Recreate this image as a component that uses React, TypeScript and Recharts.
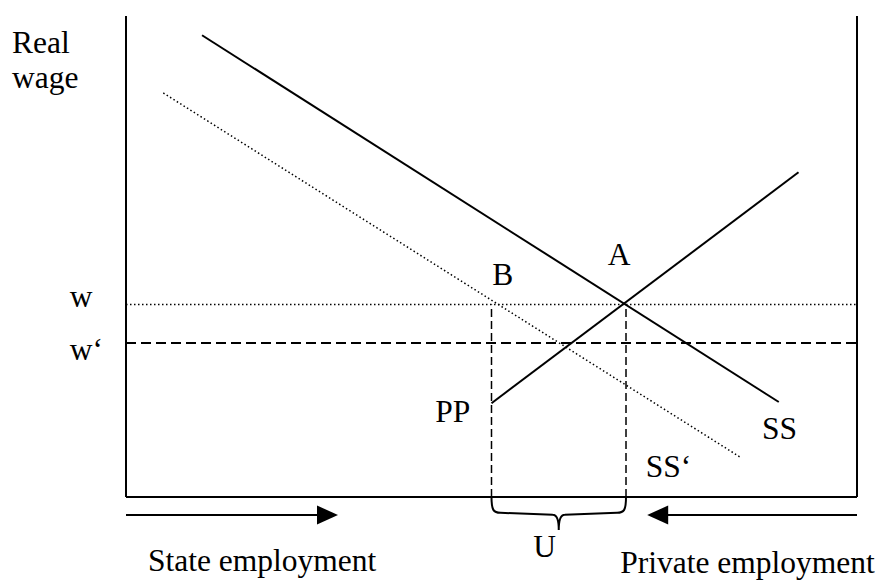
import React from "react"
import {
  ComposedChart,
  Line,
  Scatter,
  XAxis,
  YAxis,
  ReferenceLine,
  ReferenceArea,
} from "recharts"

// diagram geometry: employment 0..100 along the box, real wage 0..100 up the box
const WIDTH = 878
const HEIGHT = 580
const ORIGIN_PX = { x: 126, y: 497 }
const PX_PER_X = 7.31
const PX_PER_Y = 4.81

const ssCurve = [
  { x: 10.4, y: 96 },
  { x: 89.3, y: 19.75 },
]
const ssPrimeCurve = [
  { x: 5.1, y: 84 },
  { x: 84, y: 8.3 },
]
const ppCurve = [
  { x: 50, y: 19.5 },
  { x: 92, y: 67.5 },
]

const wageW = 40
const wagePrime = 32
const employmentB = 50
const employmentA = 68.4
const arrowLevel = -3.74

const arrowHeads = [
  { x: 29, y: arrowLevel, dir: 1 },
  { x: 71.3, y: arrowLevel, dir: -1 },
]

const labels = [
  { text: "Real", x: -15.6, y: 92.3 },
  { text: "wage", x: -15.6, y: 85 },
  { text: "w", x: -7.7, y: 39.5 },
  { text: "w\u2018", x: -7.7, y: 28.5 },
  { text: "A", x: 65.9, y: 48.2 },
  { text: "B", x: 50.1, y: 44.1 },
  { text: "PP", x: 42.3, y: 15.6 },
  { text: "SS", x: 87, y: 12.1 },
  { text: "SS\u2018", x: 71.1, y: 4.2 },
  { text: "U", x: 55.7, y: -12.5 },
  { text: "State employment", x: 3, y: -15.4 },
  { text: "Private employment", x: 67.6, y: -15.8 },
]

const X_DOMAIN = [-ORIGIN_PX.x / PX_PER_X, (WIDTH - ORIGIN_PX.x) / PX_PER_X]
const Y_DOMAIN = [-(HEIGHT - ORIGIN_PX.y) / PX_PER_Y, ORIGIN_PX.y / PX_PER_Y]
const BOX_TOP = 100

const FONT = "Liberation Serif, Times New Roman, serif"

function LabelText(props: any) {
  const { cx, cy, payload } = props
  return (
    <text x={cx} y={cy} fontFamily={FONT} fontSize={31.5} fill="#000">
      {payload.text}
    </text>
  )
}

function ArrowHead(props: any) {
  const { cx, cy, payload } = props
  const len = 21
  const half = 9.5
  const d = payload.dir
  const pts = `${cx},${cy} ${cx - d * len},${cy - half} ${cx - d * len},${cy + half}`
  return <polygon points={pts} fill="#000" />
}

function Brace(props: any) {
  const { x, y, width, height } = props
  const x1 = x + width
  const cx = x + width / 2
  const h = height
  const d = [
    `M${x},${y}`,
    `C${x},${y + h * 0.4} ${x + 2},${y + h * 0.48} ${x + 9},${y + h * 0.48}`,
    `L${cx - 6},${y + h * 0.54}`,
    `C${cx - 2},${y + h * 0.54} ${cx},${y + h * 0.66} ${cx},${y + h}`,
    `C${cx},${y + h * 0.66} ${cx + 2},${y + h * 0.54} ${cx + 6},${y + h * 0.54}`,
    `L${x1 - 9},${y + h * 0.48}`,
    `C${x1 - 2},${y + h * 0.48} ${x1},${y + h * 0.4} ${x1},${y}`,
  ].join(" ")
  return <path d={d} fill="none" stroke="#000" strokeWidth={2} />
}

export default function App() {
  return (
    <div style={{ position: "absolute", left: 0, top: 0, width: WIDTH, height: HEIGHT, background: "#fff" }}>
      <ComposedChart width={WIDTH} height={HEIGHT} margin={{ top: 0, right: 0, bottom: 0, left: 0 }}>
        <XAxis type="number" dataKey="x" domain={X_DOMAIN} hide allowDataOverflow />
        <YAxis type="number" dataKey="y" domain={Y_DOMAIN} hide allowDataOverflow />

        {/* box */}
        <ReferenceLine segment={[{ x: 0, y: 0 }, { x: 0, y: BOX_TOP }]} stroke="#000" strokeWidth={2} />
        <ReferenceLine segment={[{ x: 100, y: 0 }, { x: 100, y: BOX_TOP }]} stroke="#000" strokeWidth={2} />
        <ReferenceLine segment={[{ x: 0, y: 0 }, { x: 100, y: 0 }]} stroke="#000" strokeWidth={2} />

        {/* wage levels */}
        <ReferenceLine
          segment={[{ x: 0, y: wageW }, { x: 100, y: wageW }]}
          stroke="#000"
          strokeWidth={1.5}
          strokeDasharray="1.5 2.5"
        />
        <ReferenceLine
          segment={[{ x: 0, y: wagePrime }, { x: 100, y: wagePrime }]}
          stroke="#000"
          strokeWidth={2}
          strokeDasharray="10 5"
        />

        {/* employment drop lines */}
        <ReferenceLine
          segment={[{ x: employmentB, y: 0 }, { x: employmentB, y: wageW }]}
          stroke="#000"
          strokeWidth={1.5}
          strokeDasharray="8 4"
        />
        <ReferenceLine
          segment={[{ x: employmentA, y: 0 }, { x: employmentA, y: wageW }]}
          stroke="#000"
          strokeWidth={1.5}
          strokeDasharray="8 4"
        />

        <Line data={ssCurve} dataKey="y" type="linear" stroke="#000" strokeWidth={2} dot={false} isAnimationActive={false} />
        <Line
          data={ssPrimeCurve}
          dataKey="y"
          type="linear"
          stroke="#000"
          strokeWidth={1.5}
          strokeDasharray="1.5 2.5"
          dot={false}
          isAnimationActive={false}
        />
        <Line data={ppCurve} dataKey="y" type="linear" stroke="#000" strokeWidth={2} dot={false} isAnimationActive={false} />

        {/* unemployment brace */}
        <ReferenceArea x1={employmentB} x2={employmentA} y1={0} y2={-6.86} shape={<Brace />} />

        {/* direction arrows */}
        <ReferenceLine segment={[{ x: 0, y: arrowLevel }, { x: 27, y: arrowLevel }]} stroke="#000" strokeWidth={2} />
        <ReferenceLine segment={[{ x: 100, y: arrowLevel }, { x: 73, y: arrowLevel }]} stroke="#000" strokeWidth={2} />
        <Scatter data={arrowHeads} dataKey="y" shape={<ArrowHead />} isAnimationActive={false} />

        <Scatter data={labels} dataKey="y" shape={<LabelText />} isAnimationActive={false} />
      </ComposedChart>
    </div>
  )
}
